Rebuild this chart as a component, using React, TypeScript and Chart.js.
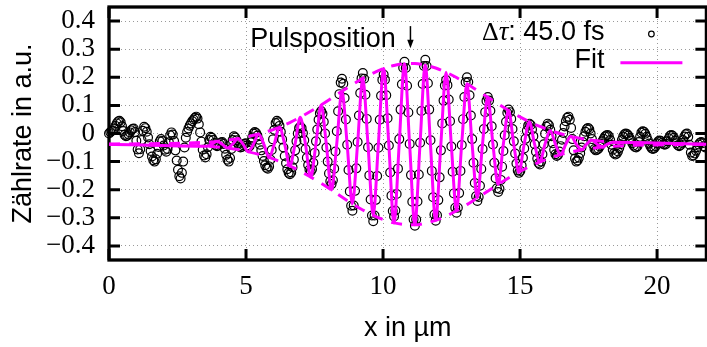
import { useEffect, useRef } from "react";
import { Chart, registerables } from "chart.js";

Chart.register(...registerables);

// ---------- axis setup ----------
const xMin = 0;
const xMax = 21.8;
const yMin = -0.45;
const yMax = 0.45;
const xTicks = [0, 5, 10, 15, 20];
const xTickLabels = ["0", "5", "10", "15", "20"];
const yTicks = [-0.4, -0.3, -0.2, -0.1, 0, 0.1, 0.2, 0.3, 0.4];
const yTickLabels = ["\u22120.4", "\u22120.3", "\u22120.2", "\u22120.1", "0", "0.1", "0.2", "0.3", "0.4"];

// ---------- measured counts (scan positions every 0.0475 µm from 0) ----------
const sampleStep = 0.0475;
const countsY = [
  0.000, 0.005, 0.009, 0.011, 0.018, 0.027, 0.036, 0.043, 0.045, 0.040,
  0.026, 0.009, -0.005, -0.010, -0.008, -0.003, 0.004, 0.011, 0.016, 0.018,
  0.005, -0.026, -0.057, -0.070, -0.056, -0.023, 0.010, 0.024, 0.019, 0.006,
  -0.014, -0.038, -0.062, -0.082, -0.095, -0.100, -0.092, -0.072, -0.048, -0.028,
  -0.020, -0.027, -0.043, -0.058, -0.065, -0.055, -0.031, -0.006, 0.004, -0.004,
  -0.027, -0.060, -0.096, -0.129, -0.152, -0.160, -0.140, -0.100, -0.050, -0.015,
  0.005, 0.018, 0.028, 0.036, 0.044, 0.050, 0.056, 0.060, 0.053, 0.033,
  0.004, -0.029, -0.058, -0.078, -0.085, -0.074, -0.049, -0.023, -0.012, -0.015,
  -0.023, -0.034, -0.042, -0.045, -0.043, -0.038, -0.032, -0.030, -0.037, -0.054,
  -0.076, -0.093, -0.100, -0.087, -0.055, -0.023, -0.010, -0.014, -0.024, -0.036,
  -0.046, -0.050, -0.048, -0.042, -0.037, -0.035, -0.043, -0.050, -0.045, -0.031,
  -0.014, 0.000, 0.005, 0.002, -0.007, -0.022, -0.040, -0.060, -0.080, -0.098,
  -0.113, -0.122, -0.125, -0.117, -0.093, -0.059, -0.021, 0.013, 0.037, 0.045,
  0.040, 0.027, 0.006, -0.021, -0.050, -0.080, -0.106, -0.127, -0.140, -0.145,
  -0.139, -0.120, -0.093, -0.060, -0.028, 0.000, 0.019, 0.025, 0.019, 0.002,
  -0.024, -0.055, -0.086, -0.112, -0.129, -0.135, -0.127, -0.104, -0.069, -0.028,
  0.014, 0.049, 0.072, 0.080, 0.070, 0.042, 0.000, -0.050, -0.100, -0.142,
  -0.170, -0.180, -0.166, -0.125, -0.064, 0.008, 0.079, 0.140, 0.181, 0.195,
  0.177, 0.126, 0.050, -0.040, -0.130, -0.206, -0.257, -0.275, -0.256, -0.204,
  -0.124, -0.030, 0.064, 0.144, 0.196, 0.215, 0.195, 0.138, 0.052, -0.049,
  -0.149, -0.235, -0.292, -0.312, -0.292, -0.236, -0.151, -0.051, 0.049, 0.134,
  0.190, 0.210, 0.191, 0.136, 0.054, -0.043, -0.139, -0.221, -0.276, -0.295,
  -0.274, -0.215, -0.125, -0.020, 0.085, 0.175, 0.234, 0.255, 0.233, 0.170,
  0.075, -0.037, -0.148, -0.243, -0.306, -0.328, -0.306, -0.242, -0.146, -0.033,
  0.080, 0.176, 0.240, 0.262, 0.240, 0.179, 0.085, -0.024, -0.133, -0.227,
  -0.288, -0.310, -0.291, -0.237, -0.156, -0.060, 0.036, 0.117, 0.171, 0.190,
  0.172, 0.121, 0.044, -0.046, -0.136, -0.213, -0.264, -0.282, -0.264, -0.212,
  -0.133, -0.041, 0.051, 0.130, 0.182, 0.200, 0.183, 0.136, 0.064, -0.020,
  -0.104, -0.176, -0.223, -0.240, -0.226, -0.186, -0.126, -0.055, 0.016, 0.076,
  0.116, 0.130, 0.117, 0.081, 0.026, -0.039, -0.104, -0.159, -0.195, -0.208,
  -0.197, -0.165, -0.118, -0.062, -0.006, 0.042, 0.074, 0.085, 0.076, 0.052,
  0.016, -0.028, -0.071, -0.107, -0.132, -0.140, -0.133, -0.114, -0.086, -0.053,
  -0.019, 0.010, 0.028, 0.035, 0.030, 0.014, -0.010, -0.038, -0.065, -0.089,
  -0.105, -0.110, -0.100, -0.074, -0.038, -0.001, 0.025, 0.035, 0.029, 0.013,
  -0.010, -0.035, -0.058, -0.074, -0.080, -0.076, -0.064, -0.045, -0.022, 0.002,
  0.025, 0.044, 0.056, 0.060, 0.049, 0.020, -0.020, -0.060, -0.089, -0.100,
  -0.096, -0.086, -0.070, -0.050, -0.030, -0.010, 0.006, 0.016, 0.020, 0.015,
  0.000, -0.020, -0.040, -0.055, -0.060, -0.058, -0.054, -0.046, -0.037, -0.028,
  -0.019, -0.011, -0.007, -0.005, -0.010, -0.023, -0.040, -0.058, -0.070, -0.075,
  -0.072, -0.064, -0.052, -0.038, -0.023, -0.011, -0.003, 0.000, -0.002, -0.007,
  -0.016, -0.025, -0.035, -0.043, -0.048, -0.050, -0.045, -0.030, -0.012, 0.003,
  0.008, 0.006, -0.001, -0.012, -0.024, -0.036, -0.046, -0.053, -0.055, -0.052,
  -0.045, -0.035, -0.028, -0.025, -0.027, -0.033, -0.038, -0.040, -0.037, -0.028,
  -0.017, -0.008, -0.005, -0.008, -0.015, -0.025, -0.035, -0.042, -0.045, -0.042,
  -0.034, -0.023, -0.011, -0.003, 0.000, -0.012, -0.040, -0.068, -0.080, -0.078,
  -0.071, -0.061, -0.049, -0.039, -0.033, -0.030, -0.035, -0.045, -0.050,
];

// ---------- fit curve (quarter-period samples from 3.56 µm) ----------
const fitBaseline = -0.038;
const fitStart = 3.56;
const fitStep = 0.19;
const fitY = [
  -0.045, -0.038, -0.028, -0.038, -0.052, -0.038, -0.019, -0.038, -0.065, -0.038,
  -0.002, -0.038, -0.085, -0.038, 0.023, -0.038, -0.115, -0.038, 0.058, -0.038,
  -0.155, -0.038, 0.101, -0.038, -0.201, -0.038, 0.150, -0.038, -0.250, -0.038,
  0.196, -0.038, -0.291, -0.038, 0.231, -0.038, -0.318, -0.038, 0.248, -0.038,
  -0.325, -0.038, 0.243, -0.038, -0.309, -0.038, 0.218, -0.038, -0.275, -0.038,
  0.177, -0.038, -0.229, -0.038, 0.129, -0.038, -0.181, -0.038, 0.082, -0.038,
  -0.137, -0.038, 0.042, -0.038, -0.101, -0.038, 0.011, -0.038, -0.075, -0.038,
  -0.010, -0.038, -0.058, -0.038, -0.023, -0.038, -0.048, -0.038, -0.031,
];

// ---------- envelope (half-period samples from 3.56 µm) ----------
const envStep = 0.38;
const envUpper = [
  -0.031, -0.028, -0.024, -0.019, -0.011, -0.002, 0.009, 0.023, 0.039, 0.058,
  0.079, 0.101, 0.125, 0.150, 0.174, 0.196, 0.215, 0.231, 0.242, 0.248,
  0.249, 0.243, 0.233, 0.218, 0.199, 0.177, 0.153, 0.129, 0.105, 0.082,
  0.061, 0.042, 0.025, 0.011, -0.001, -0.010, -0.018, -0.023, -0.028, -0.031,
];
const envLower = [
  -0.045, -0.048, -0.052, -0.057, -0.065, -0.074, -0.085, -0.099, -0.115, -0.134,
  -0.155, -0.177, -0.201, -0.226, -0.250, -0.272, -0.291, -0.307, -0.318, -0.324,
  -0.325, -0.319, -0.309, -0.294, -0.275, -0.253, -0.229, -0.205, -0.181, -0.158,
  -0.137, -0.118, -0.101, -0.087, -0.075, -0.066, -0.058, -0.053, -0.048, -0.045,
];

// ---------- annotation ----------
const pulsPosition = 11.0;
const legendDataLabel = ": 45.0 fs";
const legendFitLabel = "Fit";

const MAGENTA = "#ff00ff";
const SERIF = '"Liberation Serif", "DejaVu Serif", serif';
const SANS = '"Liberation Sans", Arial, sans-serif';

function buildSeries(start: number, step: number, ys: number[], withEnds: boolean) {
  const pts = ys.map((y, i) => ({ x: +(start + i * step).toFixed(4), y }));
  if (withEnds) {
    pts.unshift({ x: xMin, y: fitBaseline });
    pts.push({ x: xMax, y: fitBaseline });
  }
  return pts;
}

const framePlugin = {
  id: "gnuFrame",
  beforeDatasetsDraw(chart: any) {
    const { ctx, chartArea: a, scales } = chart;
    ctx.save();
    ctx.strokeStyle = "#000";
    ctx.lineWidth = 3;
    ctx.beginPath();
    for (const v of xTicks) {
      const px = scales.x.getPixelForValue(v);
      ctx.moveTo(px, a.bottom);
      ctx.lineTo(px, a.bottom - 11);
      ctx.moveTo(px, a.top);
      ctx.lineTo(px, a.top + 11);
    }
    for (const v of yTicks) {
      const py = scales.y.getPixelForValue(v);
      ctx.moveTo(a.left, py);
      ctx.lineTo(a.left + 11, py);
      ctx.moveTo(a.right, py);
      ctx.lineTo(a.right - 11, py);
    }
    ctx.stroke();
    ctx.lineWidth = 3.3;
    ctx.strokeRect(a.left, a.top, a.right - a.left, a.bottom - a.top);
    ctx.restore();
  },
  afterDraw(chart: any) {
    const { ctx, chartArea: a, scales } = chart;
    ctx.save();
    ctx.fillStyle = "#000";
    ctx.strokeStyle = "#000";
    ctx.textBaseline = "alphabetic";
    ctx.textAlign = "left";
    const R = a.right - 102;
    const y1 = a.top + 33;
    const parts: [string, string][] = [
      ["\u0394", "26px " + SERIF],
      ["\u03c4", "italic 27px " + SERIF],
      [legendDataLabel, "27px " + SANS],
    ];
    let total = 0;
    const widths = parts.map(([t, f]) => {
      ctx.font = f;
      const w = ctx.measureText(t).width;
      total += w;
      return w;
    });
    let cx = R - total;
    parts.forEach(([t, f], i) => {
      ctx.font = f;
      ctx.fillText(t, cx, y1);
      cx += widths[i];
    });
    // legend marker for data
    ctx.lineWidth = 1.2;
    ctx.beginPath();
    ctx.arc(a.right - 55, a.top + 27, 2.8, 0, Math.PI * 2);
    ctx.stroke();
    // Fit entry
    ctx.font = "27px " + SANS;
    ctx.textAlign = "right";
    ctx.fillText(legendFitLabel, R, a.top + 61.3);
    ctx.strokeStyle = MAGENTA;
    ctx.lineWidth = 3;
    ctx.beginPath();
    ctx.moveTo(a.right - 86, a.top + 55.7);
    ctx.lineTo(a.right - 24, a.top + 55.7);
    ctx.stroke();
    // Pulsposition annotation
    const ax = scales.x.getPixelForValue(pulsPosition);
    ctx.fillStyle = "#000";
    ctx.textAlign = "right";
    ctx.fillText("Pulsposition", ax - 14.7, scales.y.getPixelForValue(0.308));
    const yTop = scales.y.getPixelForValue(0.382);
    const yTip = scales.y.getPixelForValue(0.303);
    ctx.strokeStyle = "#000";
    ctx.lineWidth = 1.5;
    ctx.beginPath();
    ctx.moveTo(ax, yTop);
    ctx.lineTo(ax, yTip - 6);
    ctx.stroke();
    ctx.beginPath();
    ctx.moveTo(ax, yTip);
    ctx.lineTo(ax - 3.2, yTip - 8.5);
    ctx.lineTo(ax + 3.2, yTip - 8.5);
    ctx.closePath();
    ctx.fill();
    ctx.restore();
  },
};

export default function App() {
  const ref = useRef<HTMLCanvasElement>(null);
  useEffect(() => {
    const dataPts = countsY.map((y, i) => ({ x: +(i * sampleStep).toFixed(4), y }));
    const fitPts = buildSeries(fitStart, fitStep, fitY, true);
    const upPts = buildSeries(fitStart, envStep, envUpper, true);
    const loPts = buildSeries(fitStart, envStep, envLower, true);
    const chart = new Chart(ref.current as HTMLCanvasElement, {
      type: "line",
      data: {
        datasets: [
          {
            label: "Fit",
            data: fitPts,
            borderColor: MAGENTA,
            borderWidth: 3,
            pointRadius: 0,
            cubicInterpolationMode: "monotone",
            fill: false,
          } as any,
          {
            label: "envUpper",
            data: upPts,
            borderColor: MAGENTA,
            borderWidth: 3,
            borderDash: [11, 9],
            pointRadius: 0,
            cubicInterpolationMode: "monotone",
            fill: false,
          } as any,
          {
            label: "envLower",
            data: loPts,
            borderColor: MAGENTA,
            borderWidth: 3,
            borderDash: [11, 9],
            pointRadius: 0,
            cubicInterpolationMode: "monotone",
            fill: false,
          } as any,
          {
            label: "data",
            data: dataPts,
            showLine: false,
            pointRadius: 4.4,
            pointBorderWidth: 1.2,
            pointBorderColor: "#000",
            pointBackgroundColor: "rgba(0,0,0,0)",
            borderColor: "#000",
            clip: false,
          } as any,
        ],
      },
      options: {
        responsive: false,
        animation: false,
        devicePixelRatio: 1,
        events: [],
        layout: { padding: { left: 0, top: 7, right: 3, bottom: 0 } },
        plugins: { legend: { display: false }, tooltip: { enabled: false } },
        scales: {
          x: {
            type: "linear",
            min: xMin,
            max: xMax,
            afterBuildTicks: (s: any) => {
              s.ticks = xTicks.map((v) => ({ value: v }));
            },
            afterFit: (s: any) => {
              s.height = 87;
              s.paddingLeft = 0;
              s.paddingRight = 0;
            },
            grid: { color: "#9a9a9a", lineWidth: 1, drawTicks: false },
            border: { display: false, dash: [1, 3] },
            ticks: {
              color: "#000",
              padding: 11,
              maxRotation: 0,
              autoSkip: false,
              font: { family: SERIF, size: 27, lineHeight: 1.2 },
              callback: (_v: any, i: number) => xTickLabels[i],
            },
            title: {
              display: true,
              text: "x in \u00b5m",
              color: "#000",
              font: { family: SANS, size: 27, lineHeight: 1.2 },
              padding: { top: 0, bottom: 2 },
            },
          },
          y: {
            type: "linear",
            min: yMin,
            max: yMax,
            afterBuildTicks: (s: any) => {
              s.ticks = yTicks.map((v) => ({ value: v }));
            },
            afterFit: (s: any) => {
              s.width = 109;
              s.paddingTop = 0;
              s.paddingBottom = 0;
            },
            grid: { color: "#9a9a9a", lineWidth: 1, drawTicks: false },
            border: { display: false, dash: [1, 3] },
            ticks: {
              color: "#000",
              padding: 14,
              autoSkip: false,
              font: { family: SERIF, size: 27, lineHeight: 1.2 },
              callback: (_v: any, i: number) => yTickLabels[i],
            },
            title: {
              display: true,
              text: "Z\u00e4hlrate in a.u.",
              color: "#000",
              font: { family: SANS, size: 27, lineHeight: 1.2 },
              padding: { top: 7.4, bottom: 0 },
            },
          },
        },
      } as any,
      plugins: [framePlugin],
    });
    return () => chart.destroy();
  }, []);
  return (
    <div
      style={{
        position: "fixed",
        left: 0,
        top: 0,
        width: 707,
        height: 347,
        overflow: "hidden",
        background: "#fff",
      }}
    >
      <canvas ref={ref} width={712} height={347} style={{ display: "block", width: 712, height: 347 }} />
    </div>
  );
}
